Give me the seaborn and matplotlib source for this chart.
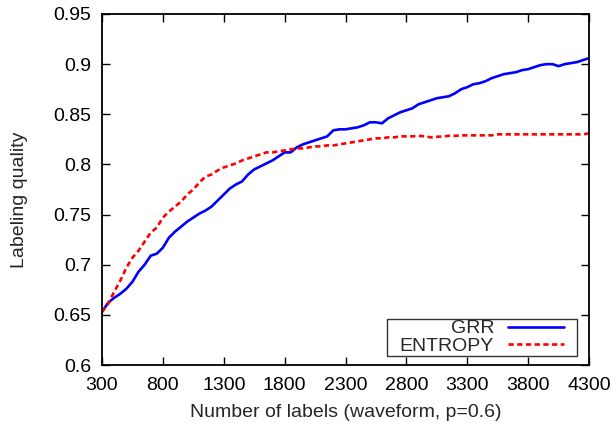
import matplotlib
matplotlib.use("Agg")
import matplotlib.pyplot as plt
import seaborn as sns
import pandas as pd

# Number of labels queried
labels = list(range(300, 4301, 50))

# Labeling quality per method
grr = [0.653, 0.662, 0.667, 0.671, 0.676, 0.683, 0.693, 0.700, 0.709, 0.711,
       0.717, 0.727, 0.733, 0.738, 0.743, 0.747, 0.751, 0.754, 0.758, 0.764,
       0.770, 0.776, 0.780, 0.783, 0.790, 0.795, 0.798, 0.801, 0.804, 0.808,
       0.812, 0.812, 0.817, 0.820, 0.822, 0.824, 0.826, 0.828, 0.834, 0.835,
       0.835, 0.836, 0.837, 0.839, 0.842, 0.842, 0.841, 0.846, 0.849, 0.852,
       0.854, 0.856, 0.860, 0.862, 0.864, 0.866, 0.867, 0.868, 0.871, 0.875,
       0.877, 0.880, 0.881, 0.883, 0.886, 0.888, 0.890, 0.891, 0.892, 0.894,
       0.895, 0.897, 0.899, 0.900, 0.900, 0.898, 0.900, 0.901, 0.902, 0.904,
       0.906]
entropy = [0.653, 0.661, 0.673, 0.684, 0.697, 0.707, 0.714, 0.723, 0.732, 0.737,
           0.747, 0.753, 0.758, 0.763, 0.770, 0.775, 0.782, 0.788, 0.790, 0.794,
           0.797, 0.799, 0.801, 0.804, 0.806, 0.808, 0.810, 0.812, 0.812, 0.813,
           0.814, 0.815, 0.816, 0.816, 0.817, 0.818, 0.818, 0.819, 0.819, 0.820,
           0.821, 0.822, 0.823, 0.824, 0.825, 0.826, 0.826, 0.827, 0.827, 0.828,
           0.828, 0.828, 0.8285, 0.828, 0.827, 0.8275, 0.828, 0.8285, 0.8285, 0.829,
           0.829, 0.829, 0.829, 0.829, 0.829, 0.830, 0.830, 0.830, 0.830, 0.830,
           0.830, 0.830, 0.830, 0.830, 0.830, 0.830, 0.830, 0.830, 0.830, 0.830,
           0.831]

x_ticks = [300, 800, 1300, 1800, 2300, 2800, 3300, 3800, 4300]
y_ticks = [0.6, 0.65, 0.7, 0.75, 0.8, 0.85, 0.9, 0.95]
y_tick_labels = ["0.6", "0.65", "0.7", "0.75", "0.8", "0.85", "0.9", "0.95"]

df = pd.DataFrame({
    "labels": labels * 2,
    "quality": grr + entropy,
    "method": ["GRR"] * len(labels) + ["ENTROPY"] * len(labels),
})

sns.set_theme(style="white")
plt.rcParams["font.family"] = ["Liberation Sans", "DejaVu Sans"]

FS = 14

fig = plt.figure(figsize=(6.11, 4.29), dpi=100)
ax = fig.add_axes([102 / 611, 1 - 365 / 429, 487 / 611, 351 / 429])

sns.lineplot(data=df, x="labels", y="quality", hue="method", style="method",
             palette={"GRR": "#0000ff", "ENTROPY": "#ff0000"},
             dashes={"GRR": "", "ENTROPY": (2.0, 1.3)},
             linewidth=1.9, ax=ax, legend=False)

ax.set_xlim(300, 4300)
ax.set_ylim(0.6, 0.95)
ax.set_xticks(x_ticks)
ax.set_xticklabels([str(t) for t in x_ticks])
ax.set_yticks(y_ticks)
ax.set_yticklabels(y_tick_labels)
ax.tick_params(direction="in", length=6, width=1, top=True, right=True,
               labelsize=FS, colors="black", bottom=True, left=True)
ax.tick_params(axis="x", pad=8.5)
ax.tick_params(axis="y", pad=8)
for s in ax.spines.values():
    s.set_color("black")
    s.set_linewidth(1.3)
    s.set_visible(True)

ax.set_xlabel("Number of labels (waveform, p=0.6)", fontsize=FS)
ax.set_ylabel("Labeling quality", fontsize=FS)
ax.xaxis.set_label_coords(0.5, -0.11)
ax.yaxis.set_label_coords(-0.152, 0.47)

handles = [plt.Line2D([], [], color="#0000ff", lw=1.9),
           plt.Line2D([], [], color="#ff0000", lw=1.9, dashes=(2.0, 1.3))]
leg = ax.legend(handles, ["GRR", "ENTROPY"], loc="lower right",
                bbox_to_anchor=(565 / 611, 1 - 356 / 429),
                bbox_transform=fig.transFigure,
                markerfirst=False, fontsize=FS, handlelength=2.9,
                handletextpad=0.7, borderpad=0.05, borderaxespad=0,
                labelspacing=0.0, fancybox=False, frameon=True)
frame = leg.get_frame()
frame.set_edgecolor("black")
frame.set_linewidth(1.0)
# wider horizontal padding than vertical padding
frame.set_boxstyle("square", pad=0.6)
frame.set_mutation_aspect(0.02)

fig.savefig("out.png", dpi=100)
